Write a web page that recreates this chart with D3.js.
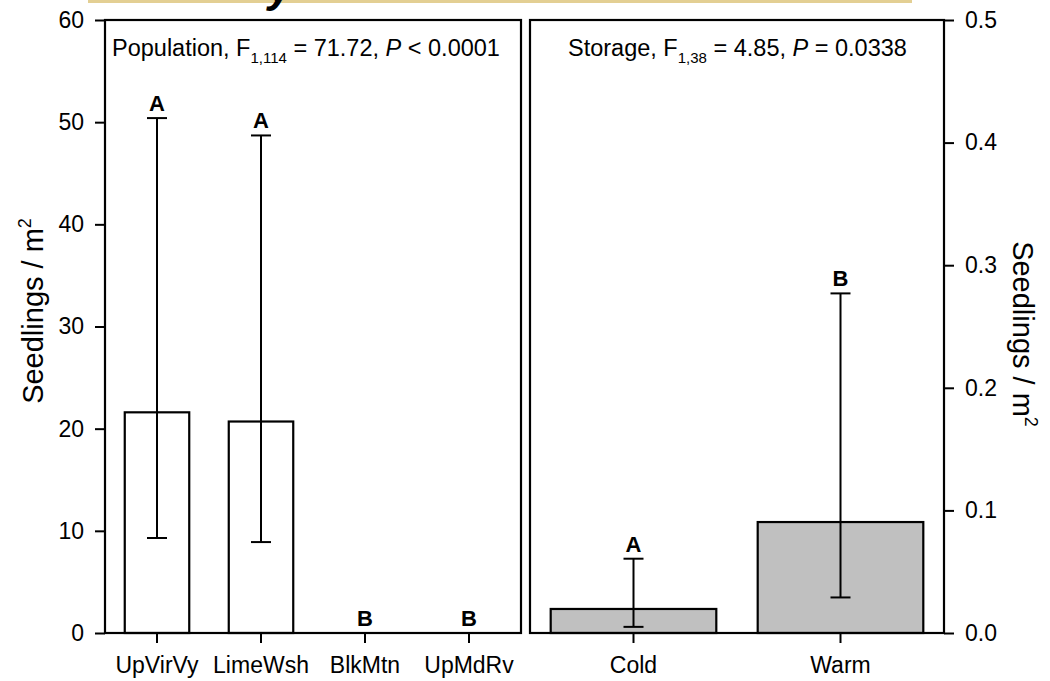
<!DOCTYPE html>
<html lang="en">
  <head>
    <meta charset="utf-8">
    <title>Seedlings per m2</title>
    <script src="https://d3js.org/d3.v7.min.js"></script>
    <style>
      body { margin: 0; background: #fff; }
      svg text { font-family: "Liberation Sans", Arial, sans-serif; fill: #000; }
      .axis path { display: none; }
      .axis line { stroke: #000; stroke-width: 2; }
      .axis text { font-size: 23px; }
    </style>
  </head>
  <body>
    <div id="chart"></div>
    <script>
      // dados
      var popCats = ["UpVirVy", "LimeWsh", "BlkMtn", "UpMdRv"];
      var popMeans = [21.6, 20.7, 0, 0];
      var popUpper = [50.4, 48.7, 0, 0];
      var popLower = [9.3, 8.9, 0, 0];
      var popLetters = ["A", "A", "B", "B"];
      var popTicks = [0, 10, 20, 30, 40, 50, 60];

      var stoCats = ["Cold", "Warm"];
      var stoMeans = [0.0196, 0.0905];
      var stoUpper = [0.0606, 0.277];
      var stoLower = [0.005, 0.029];
      var stoLetters = ["A", "B"];
      var stoTicks = [0, 0.1, 0.2, 0.3, 0.4, 0.5];

      var W = 1050, H = 681;
      var yTopo = 20, yBase = 633;

      var svg = d3.select("#chart").append("svg")
        .attr("width", W).attr("height", H);

      // pedaço do título cortado no topo
      svg.append("rect").attr("x", 88).attr("y", 0).attr("width", 824).attr("height", 3)
        .attr("fill", "#e3cf93");
      svg.append("text").attr("x", 268).attr("y", 2)
        .style("font-size", "44px").style("font-weight", "bold").style("font-style", "italic").text("y");

      function painel(cfg) {
        var x = d3.scaleBand().domain(cfg.cats)
          .range([cfg.x0, cfg.x1])
          .paddingInner(cfg.pad).paddingOuter(cfg.pad / 2);
        var y = d3.scaleLinear().domain([0, cfg.max]).range([yBase, yTopo]);

        var dados = cfg.cats.map(function(c, i) {
          return {cat: c, m: cfg.means[i], lo: cfg.lower[i], hi: cfg.upper[i], letra: cfg.letters[i]};
        });

        var g = svg.append("g");

        g.selectAll("rect.bar")
          .data(dados.filter(d => d.m > 0))
          .enter().append("rect")
            .attr("class", "bar")
            .attr("x", d => x(d.cat))
            .attr("width", x.bandwidth())
            .attr("y", d => y(d.m))
            .attr("height", d => y(0) - y(d.m))
            .attr("fill", cfg.fill)
            .attr("stroke", "#000").attr("stroke-width", 2.2);

        var eb = g.selectAll("g.err")
          .data(dados.filter(d => d.hi > 0))
          .enter().append("g").attr("class", "err")
          .attr("transform", d => "translate(" + (x(d.cat) + x.bandwidth() / 2) + ",0)");
        eb.append("line").attr("y1", d => y(d.lo)).attr("y2", d => y(d.hi))
          .attr("stroke", "#000").attr("stroke-width", 2);
        eb.append("line").attr("x1", -10).attr("x2", 10)
          .attr("y1", d => y(d.hi)).attr("y2", d => y(d.hi))
          .attr("stroke", "#000").attr("stroke-width", 2);
        eb.append("line").attr("x1", -10).attr("x2", 10)
          .attr("y1", d => y(d.lo)).attr("y2", d => y(d.lo))
          .attr("stroke", "#000").attr("stroke-width", 2);

        // letras de significância
        g.selectAll("text.letra")
          .data(dados)
          .enter().append("text")
            .attr("class", "letra")
            .attr("x", d => x(d.cat) + x.bandwidth() / 2)
            .attr("y", d => y(d.hi) - 7)
            .attr("text-anchor", "middle")
            .style("font-size", "22px").style("font-weight", "bold")
            .text(d => d.letra);

        // moldura
        g.append("rect")
          .attr("x", cfg.x0).attr("y", yTopo)
          .attr("width", cfg.x1 - cfg.x0).attr("height", yBase - yTopo)
          .attr("fill", "none").attr("stroke", "#000").attr("stroke-width", 2.2);

        var eixoX = g.append("g").attr("class", "axis")
          .attr("transform", "translate(0," + yBase + ")")
          .call(d3.axisBottom(x).tickSize(10).tickPadding(14));
        eixoX.selectAll("text").style("font-size", "23px");

        var eixoY = cfg.right ? d3.axisRight(y) : d3.axisLeft(y);
        g.append("g").attr("class", "axis")
          .attr("transform", "translate(" + (cfg.right ? cfg.x1 : cfg.x0) + ",0)")
          .call(eixoY.tickValues(cfg.ticks).tickFormat(cfg.fmt).tickSize(10).tickPadding(11));

        // título do painel
        var t = g.append("text").attr("x", cfg.tx).attr("y", 56).style("font-size", "23.5px");
        t.append("tspan").text(cfg.title[0]);
        t.append("tspan").attr("dy", 7).style("font-size", "15px").text(cfg.title[1]);
        t.append("tspan").attr("dy", -7).text(cfg.title[2]);
        t.append("tspan").style("font-style", "italic").text("P");
        t.append("tspan").text(cfg.title[3]);

        // rótulo do eixo y
        var lab = g.append("text")
          .attr("transform", "translate(" + cfg.lx + "," + cfg.ly + ") rotate(" + (cfg.right ? 90 : -90) + ")")
          .attr("text-anchor", "middle")
          .style("font-size", "29px");
        lab.append("tspan").text("Seedlings / m");
        lab.append("tspan").attr("dy", -12).style("font-size", "18px").text("2");
      }

      painel({cats: popCats, means: popMeans, lower: popLower, upper: popUpper, letters: popLetters,
              ticks: popTicks, fmt: d3.format("d"), max: 60, x0: 105, x1: 521, pad: 0.38,
              fill: "#fff", right: false, tx: 112,
              title: ["Population, F", "1,114", " = 71.72, ", " < 0.0001"],
              lx: 43, ly: 311});

      painel({cats: stoCats, means: stoMeans, lower: stoLower, upper: stoUpper, letters: stoLetters,
              ticks: stoTicks, fmt: d3.format(".1f"), max: 0.5, x0: 530, x1: 944, pad: 0.2,
              fill: "#c0c0c0", right: true, tx: 568,
              title: ["Storage, F", "1,38", " = 4.85, ", " = 0.0338"],
              lx: 1013, ly: 334});
    </script>
  </body>
</html>
